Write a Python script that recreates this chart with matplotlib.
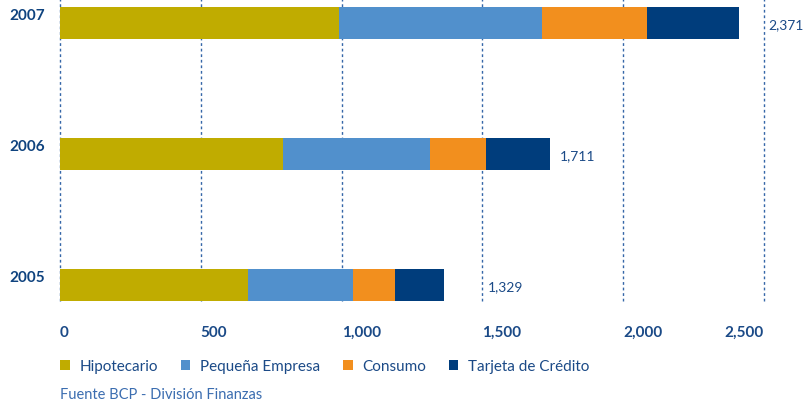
import matplotlib.pyplot as plt
from matplotlib.patches import Patch

plt.rcParams['font.family'] = ['Lato', 'DejaVu Sans']

# Data (millones)
years = ['2005', '2006', '2007']
hipotecario = [666, 792, 990]
pequena_empresa = [373, 522, 721]
consumo = [149, 198, 372]
tarjeta = [174, 227, 327]
total_labels = ['1,329', '1,711', '2,371']
ticks = [0, 500, 1000, 1500, 2000, 2500]
tick_labels = ['0', '500', '1,000', '1,500', '2,000', '2,500']

series = [
    ('Hipotecario', hipotecario, '#c0ac00'),
    ('Pequeña Empresa', pequena_empresa, '#5190cc'),
    ('Consumo', consumo, '#f28f1e'),
    ('Tarjeta de Crédito', tarjeta, '#003d7c'),
]

navy = '#1b4a87'
grid_blue = '#3566a8'

fig = plt.figure(figsize=(8.05, 4.06), dpi=100)
ax = fig.add_axes([60 / 805, 104 / 406, 704 / 805, 302 / 406])

ypos = list(range(len(years)))
left = [0] * len(years)
for name, vals, col in series:
    ax.barh(ypos, vals, left=left, height=0.245, color=col, label=name, zorder=3)
    left = [l + v for l, v in zip(left, vals)]

# total labels next to each bar (offset in pixels)
label_offsets = [44, 10, 30]
for y, tot, txt, dx in zip(ypos, left, total_labels, label_offsets):
    ax.annotate(txt, xy=(tot, y), xytext=(dx, -1), textcoords='offset pixels',
                ha='left', va='center', fontsize=10, color=navy)

# year labels on the left
for y, yr in zip(ypos, years):
    ax.annotate(yr, xy=(0, y), xytext=(-15, 8), textcoords='offset pixels',
                ha='right', va='center', fontsize=11, fontweight='bold',
                color='#0f437f', annotation_clip=False)

ax.set_xlim(0, 2500)
ax.set_ylim(-0.122, 2.183)
ax.set_yticks([])
ax.set_xticks(ticks)
ax.set_xticklabels(tick_labels, fontsize=11, fontweight='bold', color=navy)
for i, lab in enumerate(ax.get_xticklabels()):
    lab.set_ha('right' if i == len(ticks) - 1 else 'left')
ax.tick_params(axis='x', length=0, pad=17)
for x in ticks:
    ax.axvline(x, color=grid_blue, lw=1.0, ls=(0, (2.0, 2.0)), zorder=1, clip_on=False)
for s in ax.spines.values():
    s.set_visible(False)

handles = [Patch(facecolor=c, label=n) for n, _, c in series]
fig.legend(handles=handles, loc='center left', bbox_to_anchor=(60 / 805, 1 - 367 / 406),
           ncol=4, frameon=False, fontsize=11, labelcolor=navy,
           handlelength=0.65, handleheight=0.65, handletextpad=0.65,
           columnspacing=1.45, borderpad=0, borderaxespad=0)

fig.text(60 / 805, 1 - 395 / 406, 'Fuente BCP - División Finanzas', ha='left', va='center',
         fontsize=10.5, color='#3b6db0')

fig.savefig('out.png', dpi=100)
